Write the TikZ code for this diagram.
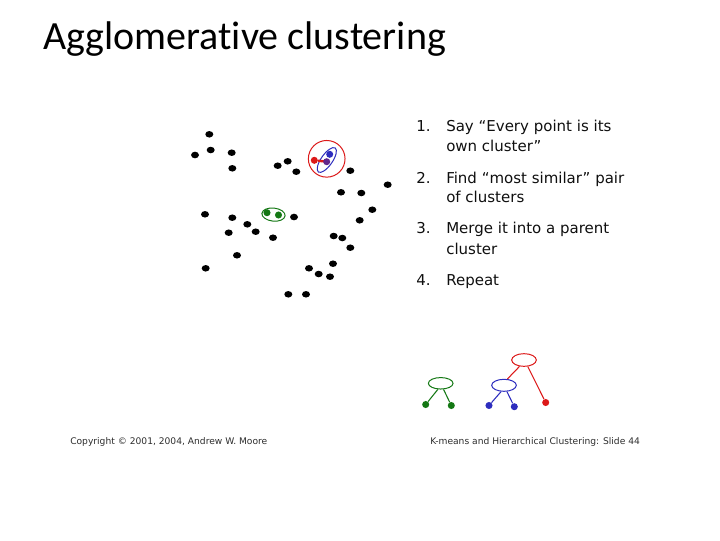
\documentclass[tikz,border=0pt]{standalone}
\usepackage{fontspec}
\setmainfont{DejaVu Sans}
\newfontfamily\titlefont[Ligatures=NoCommon]{Carlito}
\usetikzlibrary{shapes.geometric}
\definecolor{dgreen}{RGB}{20,120,20}
\definecolor{dblue}{RGB}{45,45,190}
\definecolor{dred}{RGB}{220,25,25}
\definecolor{txt}{RGB}{15,15,15}
\definecolor{foot}{RGB}{45,45,45}
\tikzset{
  dot/.style={ellipse,fill=black,inner sep=0pt,minimum width=6pt,minimum height=4.9pt},
  cdot/.style={circle,fill=#1,inner sep=0pt,minimum size=5.3pt},
  ring/.style={ellipse,draw=#1,line width=0.75pt,inner sep=0pt},
  item/.style={anchor=base west,inner sep=0pt,text=txt,font=\fontsize{11.25}{13}\selectfont},
  foottext/.style={anchor=base west,inner sep=0pt,text=foot,font=\fontsize{6.85}{8}\selectfont},
  link/.style={draw=#1,line width=0.8pt}
}
\begin{document}
\begin{tikzpicture}[x=0.75pt,y=-0.75pt]
\useasboundingbox (0,0) rectangle (720,540);
% title
\node[anchor=base west,inner sep=0pt,font=\titlefont\fontsize{30}{36}\selectfont] (title) at (43,49.5) {Agglomerative clustering};
% scatter points
\foreach \i/\x/\y in {1/209.3/134.3,2/195/155,3/210.7/150,4/231.7/152.7,5/232.3/168.3,
  6/277.7/165.7,7/287.7/161.3,8/296.3/171.7,9/350.3/170.7,10/387.7/184.7,
  11/341/192.3,12/361.3/193,13/372.3/209.7,14/359.7/220.3,15/205/214.3,
  16/232.3/217.7,17/247.3/224.3,18/228.7/232.7,19/255.7/231.7,20/273/237.7,
  21/294/217,22/333.7/236,23/342.3/238,24/350.3/247.7,25/237/255.3,
  26/205.7/268.3,27/333/263.7,28/309/268.3,29/318.7/274,30/330/276.7,
  31/288.3/294.3,32/306/294.3}
  \node[dot] (p\i) at (\x,\y) {};
% green pair
\node[ring=dgreen,minimum width=17.5pt,minimum height=9.8pt,rotate=-6] (gring) at (273.5,214.6) {};
\node[cdot=dgreen] (g1) at (267,212.7) {};
\node[cdot=dgreen] (g2) at (278.5,215) {};
% red/blue cluster
\node[ring=dred,circle,minimum size=27.5pt] (rring) at (326.7,158.8) {};
\node[ring=dblue,minimum width=22pt,minimum height=8.5pt,rotate=55] (bring) at (326.8,160) {};
\node[cdot=dblue] (b1) at (329.7,154.3) {};
\node[cdot=dred] (r1) at (314.3,160.3) {};
\draw[dred,line width=1.8pt] (r1) -- (326.7,161.7);
\node[cdot=dblue!70!dred] (b2) at (326.7,161.7) {};
% list
\node[item] (n1) at (416,131) {1.};
\node[item] (t1a) at (446,131) {Say “Every point is its};
\node[item] (t1b) at (446,151) {own cluster”};
\node[item] (n2) at (416,183) {2.};
\node[item] (t2a) at (446,183) {Find “most similar” pair};
\node[item] (t2b) at (446,202) {of clusters};
\node[item] (n3) at (416,233) {3.};
\node[item] (t3a) at (446,233) {Merge it into a parent};
\node[item] (t3b) at (446,254) {cluster};
\node[item] (n4) at (416,285) {4.};
\node[item] (t4a) at (446,285) {Repeat};
% dendrogram
\node[ring=dgreen,minimum width=18.5pt,minimum height=8.6pt] (gp) at (440.7,383.3) {};
\node[cdot=dgreen] (gl) at (425.7,404.5) {};
\node[cdot=dgreen] (gr) at (451.3,405.5) {};
\node[ring=dblue,minimum width=18.5pt,minimum height=9pt] (bp) at (504,385.3) {};
\node[cdot=dblue] (bl) at (489,405.5) {};
\node[cdot=dblue] (br) at (514.3,406.7) {};
\node[ring=dred,minimum width=18.5pt,minimum height=9.5pt] (rp) at (524,360) {};
\node[cdot=dred] (rd) at (545.7,402.5) {};
\draw[link=dgreen] (gp.245) -- (gl);
\draw[link=dgreen] (gp.295) -- (gr);
\draw[link=dblue] (bp.245) -- (bl);
\draw[link=dblue] (bp.295) -- (br);
\draw[link=dred] (rp.235) -- (bp.62);
\draw[link=dred] (rp.300) -- (rd);
% footer
\node[foottext] (f1) at (70,444) {Copyright © 2001, 2004, Andrew W. Moore};
\node[foottext] (f2) at (430,444) {K-means and Hierarchical Clustering: Slide 44};
\end{tikzpicture}
\end{document}
